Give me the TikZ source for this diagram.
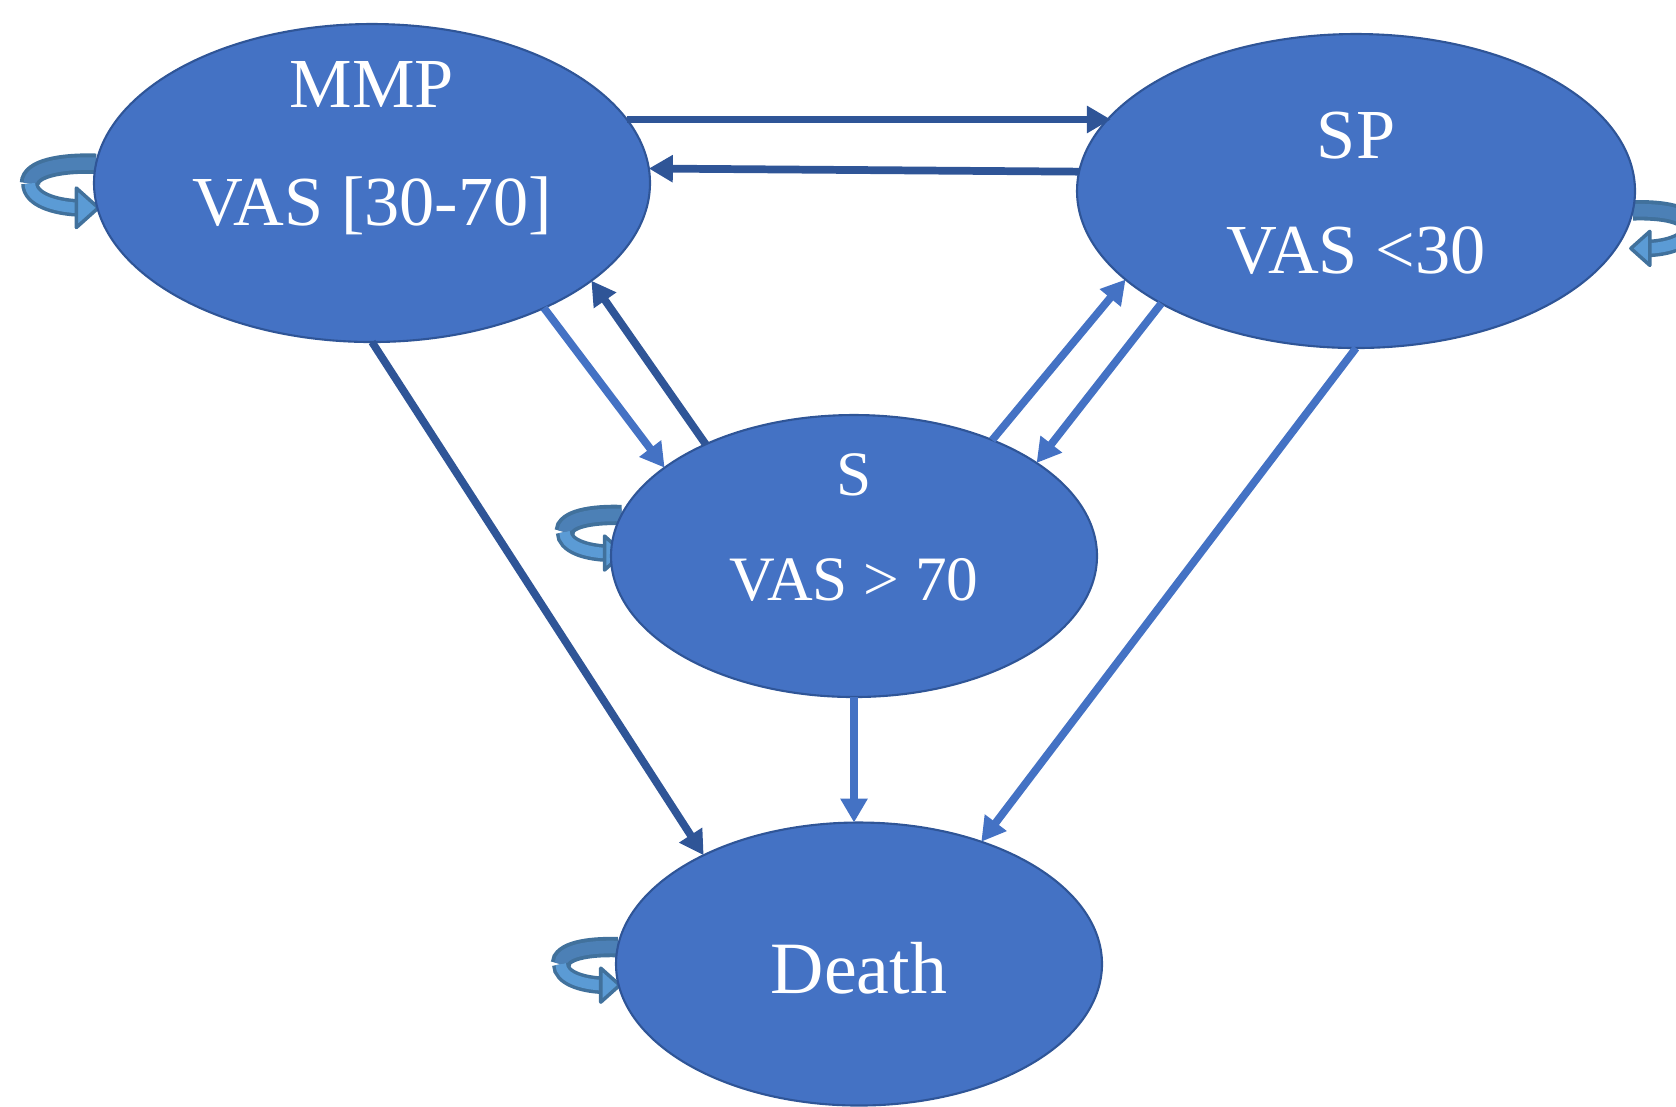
\documentclass[tikz,border=0pt]{standalone}
\usepackage{fontspec}
\setmainfont{Liberation Serif}
\usepackage{tikz}
\usetikzlibrary{arrows.meta, shapes.geometric, backgrounds}
\definecolor{stfill}{HTML}{4472C4}
\definecolor{stedge}{HTML}{2F5597}
\definecolor{lpedge}{HTML}{41719C}
\definecolor{lpback}{HTML}{4C80B6}
\definecolor{lpfront}{HTML}{5B9BD5}
\newcommand{\sttext}[2]{\raisebox{#1}[0pt][0pt]{\begin{tabular}{@{}c@{}}#2\end{tabular}}}
\tikzset{
  st/.style = {ellipse, draw=stedge, fill=stfill, line width=0.6pt, text=white,
               font=\fontsize{20}{24}\selectfont, inner sep=0pt, outer sep=0pt},
  fl/.style = {-{Triangle[length=2.4mm, width=2.6mm]}, line width=2.2pt},
  dk/.style = {fl, draw=stedge},
  lt/.style = {fl, draw=stfill},
  selfloop/.pic = {
    \draw[line width=5.8pt, lpedge] (0,0) .. controls (-30,-1) and (-57,4) .. (-57,17);
    \draw[line width=3.6pt, lpback] (0,0) .. controls (-30,-1) and (-57,4) .. (-57,17);
    \draw[line width=5pt, lpedge] (-57,17) .. controls (-57,31) and (-35,37) .. (-17,38);
    \draw[line width=3pt, lpfront] (-57,17) .. controls (-57,31) and (-35,37) .. (-17,38);
    \filldraw[fill=lpfront, draw=lpedge, line width=1pt, line join=round]
      (-17,21) -- (2,38) -- (-17,55) -- cycle;
  },
}

\begin{document}
\begin{tikzpicture}[x=0.1mm, y=-0.1mm]
  \useasboundingbox (0,0) rectangle (1676,1106);
  \node[st, minimum width=55.6mm, minimum height=31.8mm] (mmp) at (372,183)
    {\sttext{4.3pt}{MMP\\[9.8pt]VAS [30-70]}};
  \node[st, minimum width=55.8mm, minimum height=31.4mm] (sp) at (1356,191)
    {\sttext{-7.4pt}{SP\\[8.7pt]VAS <30}};
  \node[st, minimum width=48.6mm, minimum height=28.2mm, font=\fontsize{18}{21.6}\selectfont]
    (s) at (854,556) {\sttext{2.2pt}{S\\[8.3pt]VAS > 70}};
  \node[st, minimum width=48.6mm, minimum height=28.3mm, font=\fontsize{21}{25}\selectfont]
    (death) at (859,964) {\sttext{-8.5pt}{Death}};
  % self loops
  \begin{scope}[on background layer]
    \pic[scale=1.16] at (mmp.176) {selfloop};
    \pic[xscale=-1] at (sp.356) {selfloop};
    \pic at (s.170) {selfloop};
    \pic at (death.176.6) {selfloop};
  \end{scope}
  % transitions
  \draw[dk] (mmp.14) -- (mmp.14 -| sp.163.6);
  \draw[dk] (sp.176.9) -- (mmp.3.1);
  \draw[lt] (mmp.324.4) -- (s.155.8);
  \draw[dk] (s.143.1) -- (mmp.336.1);
  \draw[lt] (s.40.5) -- (sp.201.4);
  \draw[lt] (sp.210.4) -- (s.27.2);
  \draw[dk] (mmp.south) -- (death.145.7);
  \draw[lt] (s.south) -- (s.south |- death.north);
  \draw[lt] (sp.south) -- (death.45.1);
\end{tikzpicture}
\end{document}
